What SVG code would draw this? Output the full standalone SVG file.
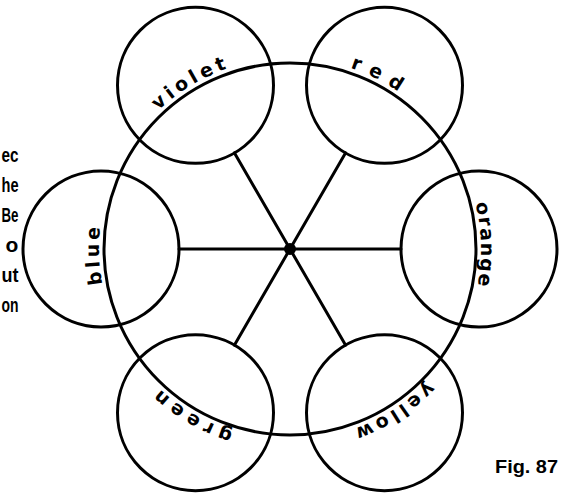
<svg xmlns="http://www.w3.org/2000/svg" xmlns:xlink="http://www.w3.org/1999/xlink" width="571" height="495" viewBox="0 0 571 495">
<style>
.ln{fill:none;stroke:#000;stroke-width:3;stroke-linecap:round}
.lbl{font-family:"DejaVu Sans",sans-serif;font-size:19px;font-weight:bold;fill:#000}
.side{font-family:"Liberation Sans",Arial,sans-serif;font-size:21px;font-weight:bold;fill:#000}
.fig{font-family:"Liberation Sans",Arial,sans-serif;font-size:19px;font-weight:bold;fill:#000}
</style>
<defs>
<path id="tp" d="M290,440 A191,191 0 1,1 290,58 A191,191 0 1,1 290,440"/>
</defs>
<rect width="571" height="495" fill="#fff"/>
<g id="side-text">
<text class="side" x="1.5" y="162" textLength="17" lengthAdjust="spacingAndGlyphs">ec</text>
<text class="side" x="1.5" y="192" textLength="17" lengthAdjust="spacingAndGlyphs">he</text>
<text class="side" x="1.5" y="222" textLength="17" lengthAdjust="spacingAndGlyphs">Be</text>
<text class="side" x="5.5" y="252">o</text>
<text class="side" x="1.5" y="282" textLength="17" lengthAdjust="spacingAndGlyphs">ut</text>
<text class="side" x="1.5" y="312" textLength="17" lengthAdjust="spacingAndGlyphs">on</text>
</g>
<g id="connectors">
<line class="ln" x1="290" y1="249" x2="401" y2="249"/>
<line class="ln" x1="290" y1="249" x2="345.5" y2="152.9"/>
<line class="ln" x1="290" y1="249" x2="234.5" y2="152.9"/>
<line class="ln" x1="290" y1="249" x2="179" y2="249"/>
<line class="ln" x1="290" y1="249" x2="234.5" y2="345.1"/>
<line class="ln" x1="290" y1="249" x2="345.5" y2="345.1"/>
</g>
<g id="wheel">
<circle class="ln" cx="290" cy="249" r="186"/>
<circle cx="290" cy="249" r="6" fill="#000"/>
</g>
<g id="violet"><circle class="ln" cx="195.5" cy="85.3" r="78"/></g>
<g id="red"><circle class="ln" cx="384.5" cy="85.3" r="78"/></g>
<g id="orange"><circle class="ln" cx="479" cy="249" r="78"/></g>
<g id="yellow"><circle class="ln" cx="384.5" cy="412.7" r="78"/></g>
<g id="green"><circle class="ln" cx="195.5" cy="412.7" r="78"/></g>
<g id="blue"><circle class="ln" cx="101" cy="249" r="78"/></g>
<g id="labels">
<text class="lbl"><textPath xlink:href="#tp" href="#tp" startOffset="495" text-anchor="middle" textLength="81" lengthAdjust="spacing">violet</textPath></text>
<text class="lbl"><textPath xlink:href="#tp" href="#tp" startOffset="688" text-anchor="middle" textLength="54" lengthAdjust="spacing">red</textPath></text>
<text class="lbl"><textPath xlink:href="#tp" href="#tp" startOffset="895" text-anchor="middle" textLength="83" lengthAdjust="spacing">orange</textPath></text>
<text class="lbl"><textPath xlink:href="#tp" href="#tp" startOffset="1090" text-anchor="middle" textLength="88" lengthAdjust="spacing">yellow</textPath></text>
<text class="lbl"><textPath xlink:href="#tp" href="#tp" startOffset="100" text-anchor="middle" textLength="85" lengthAdjust="spacing">green</textPath></text>
<text class="lbl"><textPath xlink:href="#tp" href="#tp" startOffset="293" text-anchor="middle" textLength="57" lengthAdjust="spacing">blue</textPath></text>
</g>
<text class="fig" x="495" y="473" textLength="63" lengthAdjust="spacingAndGlyphs">Fig. 87</text>
</svg>
